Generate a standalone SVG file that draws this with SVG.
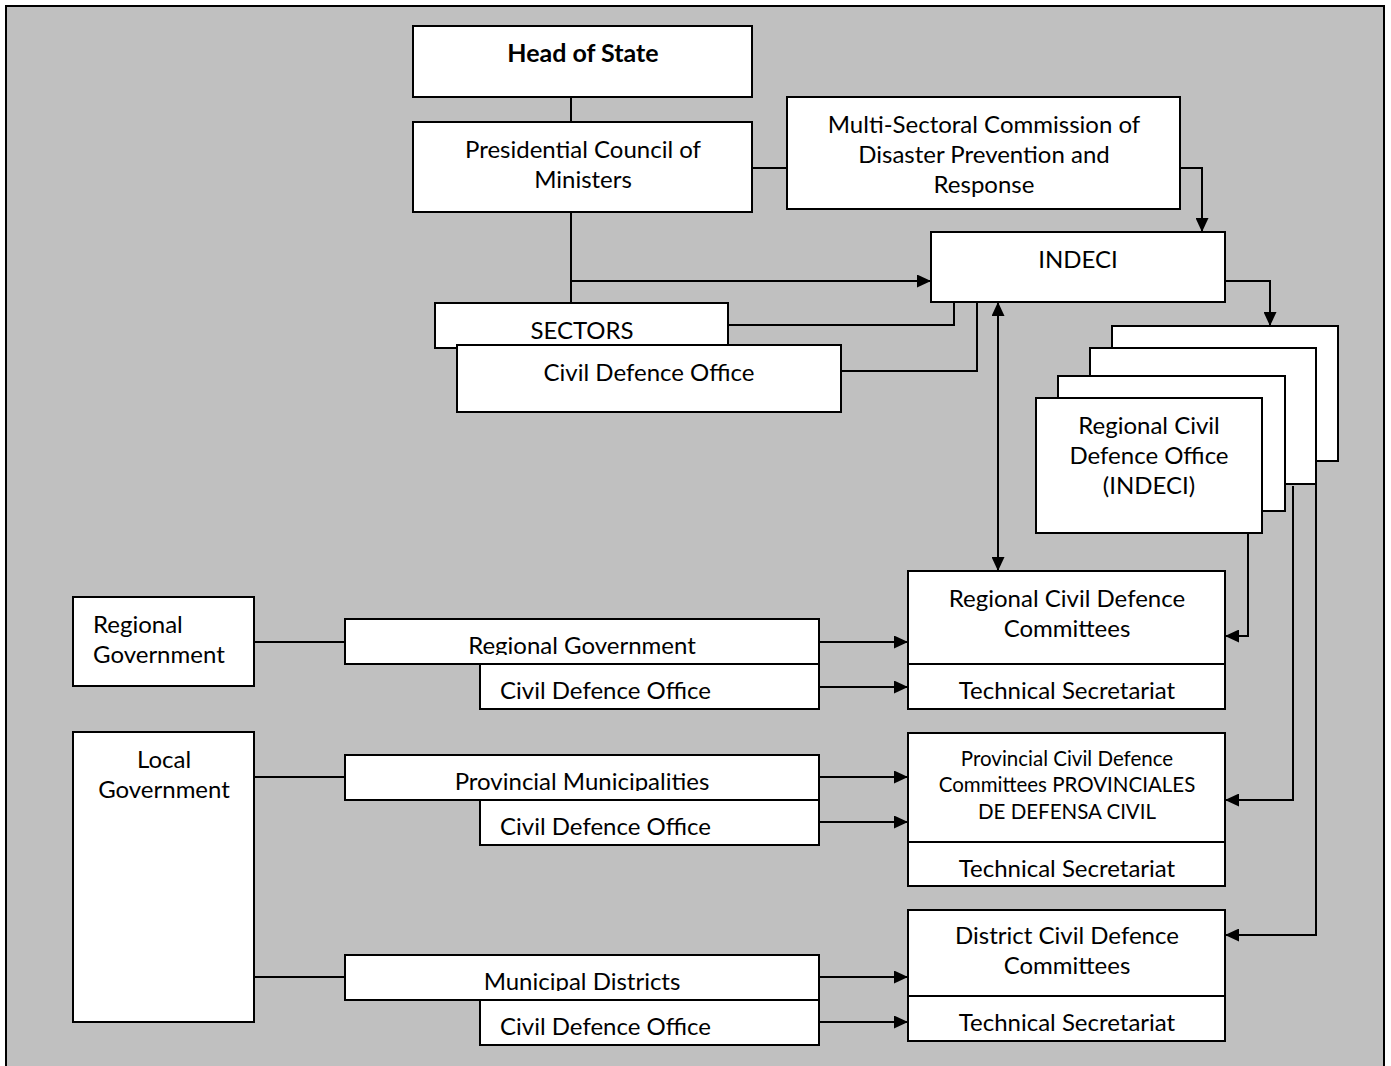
<svg xmlns="http://www.w3.org/2000/svg" width="1391" height="1066" viewBox="0 0 1391 1066">
<style>
.bx{fill:#fff;stroke:#000;stroke-width:2}
.t{font-family:Lato,"Liberation Sans",sans-serif;font-size:24px;fill:#000;text-anchor:middle}
.l{text-anchor:start}
.b{font-weight:bold;font-size:25px}
.s{font-size:20.5px}
.c{fill:none;stroke:#000;stroke-width:2}
</style>
<defs>
<marker id="ar" viewBox="0 0 14 13" refX="14" refY="6.5" markerWidth="14" markerHeight="13" markerUnits="userSpaceOnUse" orient="auto-start-reverse">
<path d="M0,0 L14,6.5 L0,13 z" fill="#000"/>
</marker>
<clipPath id="cp1"><rect x="345" y="619" width="474" height="36"/></clipPath>
<clipPath id="cp2"><rect x="345" y="755" width="474" height="36"/></clipPath>
<clipPath id="cp3"><rect x="345" y="955" width="474" height="36"/></clipPath>
</defs>
<rect x="6" y="6" width="1378" height="1075" fill="#c0c0c0" stroke="#000" stroke-width="2"/>
<g id="connectors">
<path class="c" d="M571,97 V122 M571,212 V303 M752,168 H787"/>
<path class="c" d="M571,281 H931" marker-end="url(#ar)"/>
<path class="c" d="M728,325 H954 V302 M841,371 H977 V302"/>
<path class="c" d="M998,302 V571" marker-start="url(#ar)" marker-end="url(#ar)"/>
<path class="c" d="M1180,168 H1202 V232" marker-end="url(#ar)"/>
<path class="c" d="M1225,281 H1270 V326" marker-end="url(#ar)"/>
<path class="c" d="M1248,533 V636 H1225" marker-end="url(#ar)"/>
<path class="c" d="M1293,486 V800 H1225" marker-end="url(#ar)"/>
<path class="c" d="M1316,484 V935 H1225" marker-end="url(#ar)"/>
<path class="c" d="M254,642 H345 M254,777 H345 M254,977 H345"/>
<path class="c" d="M819,642 H908" marker-end="url(#ar)"/>
<path class="c" d="M819,687 H908" marker-end="url(#ar)"/>
<path class="c" d="M819,777 H908" marker-end="url(#ar)"/>
<path class="c" d="M819,822 H908" marker-end="url(#ar)"/>
<path class="c" d="M819,977 H908" marker-end="url(#ar)"/>
<path class="c" d="M819,1022 H908" marker-end="url(#ar)"/>
</g>
<g id="head-of-state"><rect class="bx" x="413" y="26" width="339" height="71"/><text class="t b" x="583" y="62">Head of State</text></g>
<g id="pcm"><rect class="bx" x="413" y="122" width="339" height="90"/><text class="t" x="583" y="158">Presidential Council of</text><text class="t" x="583" y="188">Ministers</text></g>
<g id="multi"><rect class="bx" x="787" y="97" width="393" height="112"/><text class="t" x="984" y="133">Multi-Sectoral Commission of</text><text class="t" x="984" y="163">Disaster Prevention and</text><text class="t" x="984" y="193">Response</text></g>
<g id="indeci"><rect class="bx" x="931" y="232" width="294" height="70"/><text class="t" x="1078" y="268">INDECI</text></g>
<g id="sectors"><rect class="bx" x="435" y="303" width="293" height="45"/><text class="t" x="582" y="339">SECTORS</text></g>
<g id="sectors-cdo"><rect class="bx" x="457" y="345" width="384" height="67"/><text class="t" x="649" y="381">Civil Defence Office</text></g>
<g id="regional-cdo-indeci">
<rect class="bx" x="1112" y="326" width="226" height="135"/>
<rect class="bx" x="1090" y="348" width="226" height="136"/>
<rect class="bx" x="1058" y="376" width="227" height="135"/>
<rect class="bx" x="1036" y="398" width="226" height="135"/>
<text class="t" x="1149" y="434">Regional Civil</text><text class="t" x="1149" y="464">Defence Office</text><text class="t" x="1149" y="494">(INDECI)</text>
</g>
<g id="regional-cdc"><rect class="bx" x="908" y="571" width="317" height="93"/><text class="t" x="1067" y="607">Regional Civil Defence</text><text class="t" x="1067" y="637">Committees</text><rect class="bx" x="908" y="664" width="317" height="45"/><text class="t" x="1067" y="699">Technical Secretariat</text></g>
<g id="provincial-cdc"><rect class="bx" x="908" y="733" width="317" height="109"/><text class="t s" x="1067" y="766">Provincial Civil Defence</text><text class="t s" x="1067" y="792">Committees PROVINCIALES</text><text class="t s" x="1067" y="819">DE DEFENSA CIVIL</text><rect class="bx" x="908" y="842" width="317" height="44"/><text class="t" x="1067" y="877">Technical Secretariat</text></g>
<g id="district-cdc"><rect class="bx" x="908" y="910" width="317" height="86"/><text class="t" x="1067" y="944">District Civil Defence</text><text class="t" x="1067" y="974">Committees</text><rect class="bx" x="908" y="996" width="317" height="45"/><text class="t" x="1067" y="1031">Technical Secretariat</text></g>
<g id="regional-government-left"><rect class="bx" x="73" y="597" width="181" height="89"/><text class="t l" x="93" y="633">Regional</text><text class="t l" x="93" y="663">Government</text></g>
<g id="local-government"><rect class="bx" x="73" y="732" width="181" height="290"/><text class="t" x="164" y="768">Local</text><text class="t" x="164" y="798">Government</text></g>
<g id="regional-government"><rect class="bx" x="345" y="619" width="474" height="45"/><text class="t" x="582" y="654" clip-path="url(#cp1)">Regional Government</text></g>
<g id="regional-cdo"><rect class="bx" x="480" y="664" width="339" height="45"/><text class="t l" x="500" y="699">Civil Defence Office</text></g>
<g id="provincial-municipalities"><rect class="bx" x="345" y="755" width="474" height="45"/><text class="t" x="582" y="790" clip-path="url(#cp2)">Provincial Municipalities</text></g>
<g id="provincial-cdo"><rect class="bx" x="480" y="800" width="339" height="45"/><text class="t l" x="500" y="835">Civil Defence Office</text></g>
<g id="municipal-districts"><rect class="bx" x="345" y="955" width="474" height="45"/><text class="t" x="582" y="990" clip-path="url(#cp3)">Municipal Districts</text></g>
<g id="district-cdo"><rect class="bx" x="480" y="1000" width="339" height="45"/><text class="t l" x="500" y="1035">Civil Defence Office</text></g>
</svg>
